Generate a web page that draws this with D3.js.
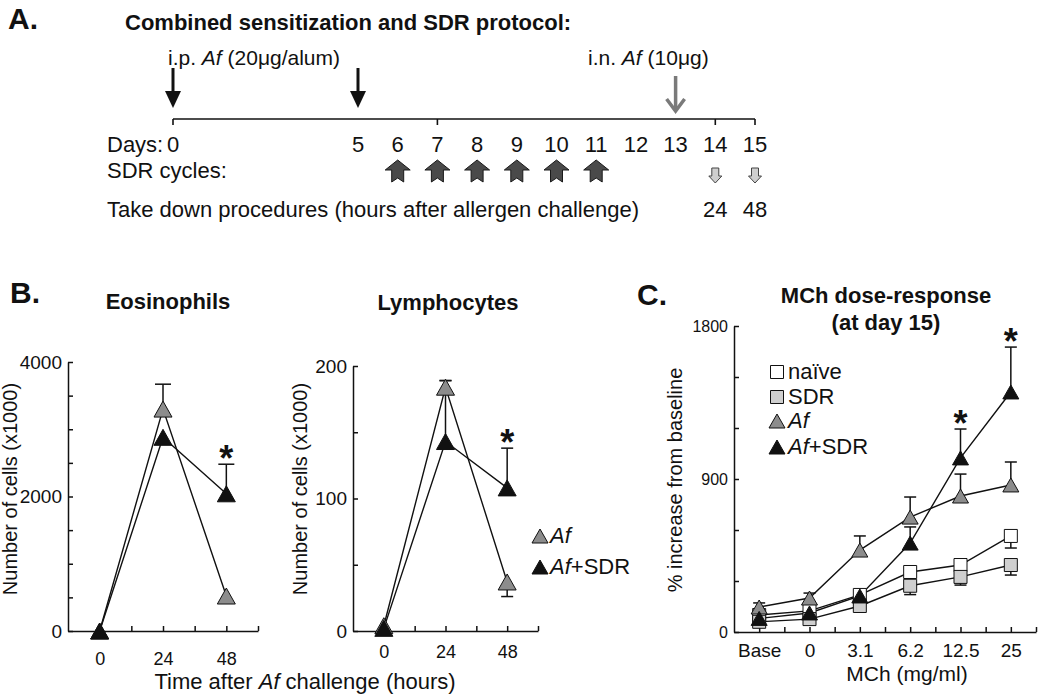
<!DOCTYPE html>
<html><head><meta charset="utf-8">
<script src="https://cdn.jsdelivr.net/npm/d3@7"></script>
<style>
body{margin:0;background:#fff}
svg{display:block}
text{font-family:"Liberation Sans",Arial,Helvetica,sans-serif;fill:#111}
</style>
</head><body>
<svg id="c" width="1050" height="700"></svg>
<script>
// ---------- Panel A: protocol ----------
const protocolDays = [0,5,6,7,8,9,10,11,12,13,14,15];
const sensitizationDays = [0,5];
const challengeDays = [13];
const sdrDays = [6,7,8,9,10,11];
const takedownDays = [14,15];
const takedownHours = ["24","48"];
const timelineTickDays = [0,7,14,15];

// ---------- Panel B ----------
const hours = [0,24,48];
const hourTicks = [0,12,24,36,48,60];
const eosAf = [0,3300,520];
const eosAfErr = [0,370,0];
const eosAfSdr = [0,2880,2040];
const eosAfSdrErr = [0,0,440];
const lymAf = [4,184,37];
const lymAfErr = [0,5,-11];
const lymAfSdr = [2,143,108];
const lymAfSdrErr = [0,46,30];

// ---------- Panel C ----------
const doseLabels = ["Base","0","3.1","6.2","12.5","25"];
const naive = [100,124,218,353,394,565];
const naiveErr = [0,0,0,0,0,-71];
const sdr = [60,76,153,272,324,394];
const sdrErr = [0,0,0,-52,-48,-59];
const af = [147,200,482,676,800,865];
const afErr = [24,29,83,118,129,135];
const afSdr = [80,112,212,523,1024,1412];
const afSdrErr = [0,0,0,95,170,264];

const GRAY = "#8c8c8c", LIGHT = "#cfcfcf", BLACK = "#111";
const svg = d3.select("#c");
svg.append("rect").attr("width",1050).attr("height",700).attr("fill","#fff");

function txt(g, x, y, s, size, opts = {}) {
  const t = g.append("text").attr("x", x).attr("y", y).attr("font-size", size)
    .attr("text-anchor", opts.anchor || "start")
    .attr("font-weight", opts.bold ? "bold" : "normal");
  if (opts.rotate) t.attr("transform", `rotate(-90,${x},${y})`);
  return t;
}
function rich(t, parts) {
  parts.forEach(p => {
    const ts = t.append("tspan").text(p[0]);
    if (p[1]) ts.attr("font-style", "italic");
  });
  return t;
}

// ================= Panel A =================
const A = svg.append("g");
txt(A, 8, 29, "", 30, {bold:true}).text("A.");
txt(A, 125, 30, "", 22, {bold:true}).text("Combined sensitization and SDR protocol:");

const xDay = d3.scaleLinear().domain([0,5,15]).range([173,358,755]);
const lineY = 119;
A.append("line").attr("x1", xDay(0)).attr("x2", xDay(15)).attr("y1", lineY).attr("y2", lineY)
  .attr("stroke", BLACK).attr("stroke-width", 1.6);
A.selectAll(".tt").data(timelineTickDays).join("line")
  .attr("x1", d => xDay(d)).attr("x2", d => xDay(d)).attr("y1", lineY).attr("y2", lineY + 6)
  .attr("stroke", BLACK).attr("stroke-width", 1.6);

rich(txt(A, 168, 65, "", 21), [["i.p. "],["Af",1],[" (20μg/alum)"]]);
rich(txt(A, 588, 65, "", 21), [["i.n. "],["Af",1],[" (10μg)"]]);

sensitizationDays.forEach(d => {
  const x = xDay(d);
  A.append("line").attr("x1", x).attr("x2", x).attr("y1", 68).attr("y2", 94)
    .attr("stroke", BLACK).attr("stroke-width", 3);
  A.append("path").attr("d", `M${x-8},91 L${x+8},91 L${x},108 Z`).attr("fill", BLACK);
});
challengeDays.forEach(d => {
  const x = xDay(d);
  A.append("line").attr("x1", x).attr("x2", x).attr("y1", 76).attr("y2", 111)
    .attr("stroke", "#7a7a7a").attr("stroke-width", 3.5);
  A.append("path").attr("d", `M${x-9},99 L${x},111 L${x+9},99`).attr("fill", "none")
    .attr("stroke", "#7a7a7a").attr("stroke-width", 3.5).attr("stroke-linejoin","miter");
});

txt(A, 107, 152, "", 22).text("Days:");
A.selectAll(".dl").data(protocolDays).join("text")
  .attr("x", d => xDay(d)).attr("y", 152).attr("font-size", 22).attr("text-anchor", "middle")
  .text(d => d);
txt(A, 107, 178, "", 22).text("SDR cycles:");
A.selectAll(".sdr").data(sdrDays).join("path")
  .attr("d", d => {
    const x = xDay(d), t = 160;
    return `M${x},${t} L${x+12.5},${t+10} L${x+6},${t+10} L${x+6},${t+22} L${x},${t+18} L${x-6},${t+22} L${x-6},${t+10} L${x-12.5},${t+10} Z`;
  })
  .attr("fill", "#4a4a4a").attr("stroke", "#1a1a1a").attr("stroke-width", 1);
A.selectAll(".td").data(takedownDays).join("path")
  .attr("d", d => {
    const x = xDay(d), t = 168;
    return `M${x-3.5},${t} L${x+3.5},${t} L${x+3.5},${t+8} L${x+6.5},${t+8} L${x},${t+15} L${x-6.5},${t+8} L${x-3.5},${t+8} Z`;
  })
  .attr("fill", LIGHT).attr("stroke", "#444").attr("stroke-width", 1);
txt(A, 107, 217, "", 22).text("Take down procedures (hours after allergen challenge)");
A.selectAll(".th").data(takedownDays).join("text")
  .attr("x", d => xDay(d)).attr("y", 217).attr("font-size", 22).attr("text-anchor", "middle")
  .text((d,i) => takedownHours[i]);

// ================= helpers =================
function triPath(w, h) { return `M0,${-h/2} L${w/2},${h/2} L${-w/2},${h/2} Z`; }
function sqPath(s) { return `M${-s/2},${-s/2} h${s} v${s} h${-s} Z`; }

function series(g, xs, vals, errs, x, y, shape, fill, capW) {
  const pts = xs.map((xv, i) => [x(xv), y(vals[i])]);
  g.append("path").attr("d", d3.line()(pts)).attr("fill", "none")
    .attr("stroke", BLACK).attr("stroke-width", 1.4);
  return {pts, draw() {
    errs.forEach((e, i) => {
      if (!e) return;
      const x0 = pts[i][0], y0 = pts[i][1], y1 = y(vals[i] + e);
      g.append("line").attr("x1", x0).attr("x2", x0).attr("y1", y0).attr("y2", y1)
        .attr("stroke", BLACK).attr("stroke-width", 1.5);
      g.append("line").attr("x1", x0 - capW/2).attr("x2", x0 + capW/2).attr("y1", y1).attr("y2", y1)
        .attr("stroke", BLACK).attr("stroke-width", 1.5);
    });
  }, marks() {
    g.selectAll(null).data(pts).join("path")
      .attr("transform", p => `translate(${p[0]},${p[1]})`)
      .attr("d", shape).attr("fill", fill).attr("stroke", BLACK).attr("stroke-width", 1);
  }};
}
function star(g, x, yTop) {
  const fs = 36;
  g.append("text").attr("x", x).attr("y", yTop - 13 + 0.555*fs).attr("font-size", fs)
    .attr("font-weight", "bold").attr("text-anchor", "middle").text("*");
}
function styleAxis(a, fs) {
  a.select(".domain").attr("stroke", BLACK).attr("stroke-width", 1.5);
  a.selectAll(".tick line").attr("stroke", BLACK).attr("stroke-width", 1.5);
  a.selectAll(".tick text").attr("font-size", fs).attr("fill", "#111")
    .attr("font-family", '"Liberation Sans",Arial,sans-serif');
}

// ================= Panel B =================
const B = svg.append("g");
txt(B, 10, 303, "", 30, {bold:true}).text("B.");
txt(B, 168, 309, "", 22, {bold:true, anchor:"middle"}).text("Eosinophils");
txt(B, 448, 310, "", 22, {bold:true, anchor:"middle"}).text("Lymphocytes");

function cellPanel(xr, yMax, yTopPx, yStep, yLabStep, afV, afE, sdV, sdE, capW, labPad, ylabX) {
  const x = d3.scaleLinear().domain([-12,60]).range(xr);
  const y = d3.scaleLinear().domain([0,yMax]).range([631, yTopPx]);
  const g = B.append("g");
  const ya = g.append("g").attr("transform", `translate(${xr[0]},0)`)
    .call(d3.axisLeft(y).tickValues(d3.range(0, yMax + 1, yStep)).tickSizeInner(-5).tickSizeOuter(0)
      .tickPadding(6).tickFormat(d => d % yLabStep === 0 ? d : ""));
  styleAxis(ya, 19);
  const xa = g.append("g").attr("transform", "translate(0,631)")
    .call(d3.axisBottom(x).tickValues(hourTicks).tickSizeInner(-5).tickSizeOuter(0)
      .tickPadding(labPad).tickFormat(d => hours.includes(d) ? d : ""));
  styleAxis(xa, 18);
  txt(g, ylabX, 489, "", 20, {anchor:"middle", rotate:true}).text("Number of cells (x1000)");
  const s1 = series(g, hours, afV, afE, x, y, triPath(18,16), GRAY, capW);
  const s2 = series(g, hours, sdV, sdE, x, y, triPath(18,16), BLACK, capW);
  s1.draw(); s2.draw(); s1.marks(); s2.marks();
  star(g, x(48), y(sdV[2] + sdE[2]));
}
cellPanel([68,258], 4000, 362, 500, 2000, eosAf, eosAfErr, eosAfSdr, eosAfSdrErr, 16, 21, 17);
cellPanel([353,538], 200, 366, 50, 100, lymAf, lymAfErr, lymAfSdr, lymAfSdrErr, 12, 14, 307);

rich(txt(B, 305, 689, "", 22, {anchor:"middle"}), [["Time after "],["Af",1],[" challenge (hours)"]]);
B.append("path").attr("transform","translate(540,536)").attr("d", triPath(16,14))
  .attr("fill", GRAY).attr("stroke", BLACK);
B.append("path").attr("transform","translate(540,567)").attr("d", triPath(16,14))
  .attr("fill", BLACK).attr("stroke", BLACK);
rich(txt(B, 550, 543, "", 22), [["Af",1]]);
rich(txt(B, 550, 574, "", 22), [["Af",1],["+SDR"]]);

// ================= Panel C =================
const C = svg.append("g");
txt(C, 637, 305, "", 30, {bold:true}).text("C.");
txt(C, 886, 303, "", 22, {bold:true, anchor:"middle"}).text("MCh dose-response");
txt(C, 886, 330, "", 22, {bold:true, anchor:"middle"}).text("(at day 15)");

const xi = doseLabels.map((d, i) => i);
const xC = d3.scaleLinear().domain([-0.5, 5.5]).range([734, 1036]);
const yC = d3.scaleLinear().domain([0, 1800]).range([632, 326]);
const yaC = C.append("g").attr("transform", "translate(734,0)")
  .call(d3.axisLeft(yC).tickValues(d3.range(0, 1801, 300)).tickSizeInner(-5).tickSizeOuter(0)
    .tickPadding(6).tickFormat(d => d % 900 === 0 ? d : ""));
styleAxis(yaC, 16);
const xaC = C.append("g").attr("transform", "translate(0,632)")
  .call(d3.axisBottom(xC).tickValues(d3.range(0, 5.51, 0.5)).tickSizeInner(-5).tickSizeOuter(0)
    .tickPadding(12).tickFormat(d => Number.isInteger(d) ? doseLabels[d] : ""));
styleAxis(xaC, 19);
txt(C, 682, 480, "", 20, {anchor:"middle", rotate:true}).text("% increase from baseline");
txt(C, 907, 681, "", 21, {anchor:"middle"}).text("MCh (mg/ml)");

const cs = [
  series(C, xi, naive, naiveErr, xC, yC, sqPath(13), "#fff", 12),
  series(C, xi, sdr, sdrErr, xC, yC, sqPath(13), LIGHT, 12),
  series(C, xi, af, afErr, xC, yC, triPath(16,14), GRAY, 12),
  series(C, xi, afSdr, afSdrErr, xC, yC, triPath(16,14), BLACK, 12)
];
cs.forEach(s => s.draw());
cs.forEach(s => s.marks());
[4,5].forEach(i => star(C, xC(i), yC(afSdr[i] + afSdrErr[i])));

const legC = [
  {shape: sqPath(13), fill: "#fff", y: 372, parts: [["naïve"]]},
  {shape: sqPath(13), fill: LIGHT, y: 397, parts: [["SDR"]]},
  {shape: triPath(16,14), fill: GRAY, y: 421, parts: [["Af",1]]},
  {shape: triPath(16,14), fill: BLACK, y: 447, parts: [["Af",1],["+SDR"]]}
];
legC.forEach(l => {
  C.append("path").attr("transform", `translate(777,${l.y})`).attr("d", l.shape)
    .attr("fill", l.fill).attr("stroke", BLACK);
  rich(txt(C, 788, l.y + 7, "", 22), l.parts);
});
</script>
</body></html>
